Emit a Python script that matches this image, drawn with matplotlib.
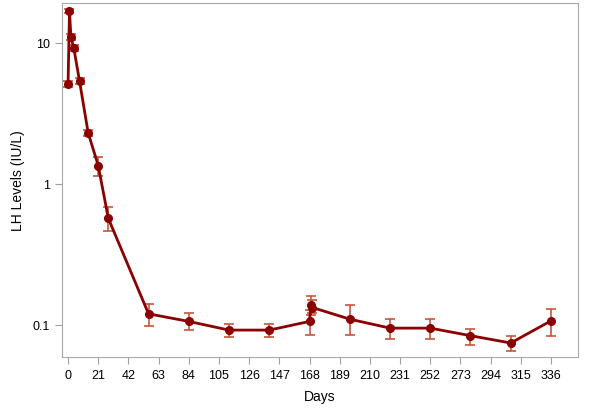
import numpy as np
import matplotlib
matplotlib.use("Agg")
import matplotlib.pyplot as plt
from matplotlib.ticker import FixedLocator, NullLocator

plt.rcParams['font.family'] = ['Liberation Sans', 'DejaVu Sans']

# data
days = [0, 1, 2, 4, 8, 14, 21, 28, 56, 84, 112, 140, 168, 169, 170, 196, 224, 252, 280, 308, 336]
lh = [5.1, 16.8, 11.0, 9.2, 5.35, 2.30, 1.35, 0.571, 0.120, 0.106, 0.092, 0.092,
      0.106, 0.138, 0.133, 0.110, 0.095, 0.095, 0.084, 0.0745, 0.107]
lh_low = [4.9, 16.2, 10.5, 8.8, 5.1, 2.18, 1.13, 0.466, 0.098, 0.092, 0.082, 0.082,
          0.085, 0.118, 0.122, 0.085, 0.080, 0.079, 0.072, 0.0655, 0.084]
lh_high = [5.35, 17.4, 11.5, 9.6, 5.6, 2.42, 1.55, 0.684, 0.141, 0.122, 0.102, 0.102,
           0.128, 0.160, 0.150, 0.139, 0.110, 0.111, 0.094, 0.084, 0.130]

x_ticks = np.arange(0, 337, 21)
y_ticks = [0.1, 1, 10]
y_labels = ['0.1', '1', '10']

fig = plt.figure(figsize=(5.89, 4.14), dpi=100)
ax = fig.add_axes([0.1053, 0.1353, 0.876, 0.855])

yerr = [np.array(lh) - np.array(lh_low), np.array(lh_high) - np.array(lh)]
ax.errorbar(days, lh, yerr=yerr, fmt='none', ecolor='#C8553A', elinewidth=1.2,
            capsize=3.8, capthick=1.2, zorder=2)
ax.plot(days, lh, color='#8B0000', lw=2, marker='o', markersize=5.5, zorder=3)

ax.set_yscale('log')
ax.set_xlim(-4.2, 354.8)
ax.set_ylim(0.0593, 19.2)
ax.yaxis.set_major_locator(FixedLocator(y_ticks))
ax.yaxis.set_minor_locator(NullLocator())
ax.set_yticklabels(y_labels)
ax.set_xticks(x_ticks)

for s in ax.spines.values():
    s.set_color('#A8A8A8')
ax.tick_params(colors='#A0A0A0', labelcolor='black', labelsize=9, length=5)

ax.set_xlabel('Days', fontsize=10, labelpad=6)
ax.set_ylabel('LH Levels (IU/L)', fontsize=10, labelpad=6)

fig.savefig('out.png', dpi=100)
